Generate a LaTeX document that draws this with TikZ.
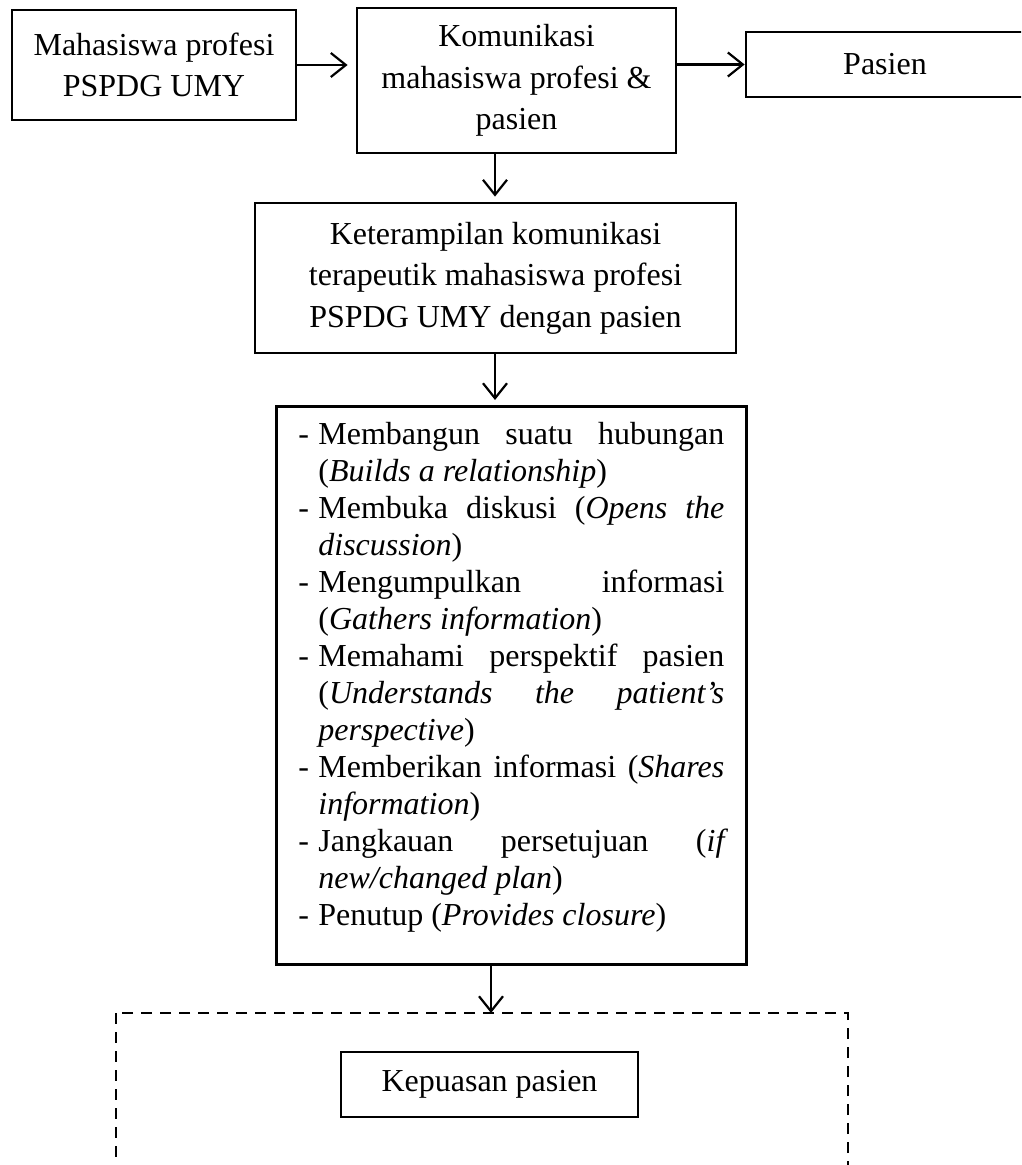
\documentclass[tikz,border=0pt]{standalone}
\usepackage{fontspec}
\setmainfont{Liberation Serif}
\usetikzlibrary{arrows.meta}
\newcommand\itemline[1]{\hbox to 470pt{\hskip 22pt\hbox to 20pt{-\hfil}\hbox to 406pt{#1}\hfil}}
\newcommand\contline[1]{\hbox to 470pt{\hskip 42pt\hbox to 406pt{#1}\hfil}}
\newcommand\listcontent{\vbox to 558pt{\fontsize{32}{37}\selectfont\baselineskip=37pt\lineskiplimit=-100pt\lineskip=0pt
\itemline{\vrule height 38pt width 0pt Membangun\hfill suatu\hfill hubungan}
\contline{({\itshape Builds a relationship})\hfil}
\itemline{Membuka\hfill diskusi\hfill ({\itshape Opens}\hfill{\itshape the}}
\contline{{\itshape discussion})\hfil}
\itemline{Mengumpulkan\hfill informasi}
\contline{({\itshape Gathers information})\hfil}
\itemline{Memahami\hfill perspektif\hfill pasien}
\contline{({\itshape Understands}\hfill{\itshape the}\hfill{\itshape patient’s}}
\contline{{\itshape perspective})\hfil}
\itemline{Memberikan\hfill informasi\hfill ({\itshape Shares}}
\contline{{\itshape information})\hfil}
\itemline{Jangkauan\hfill persetujuan\hfill ({\itshape if}}
\contline{{\itshape new/changed plan})\hfil}
\itemline{Penutup ({\itshape Provides closure})\hfil}
\vfil}}
\begin{document}
\begin{tikzpicture}[x=1pt,y=-1pt,
  framebox/.style={draw, line width=2.8pt, inner sep=0pt},
  txtbox/.style={framebox, align=center, font=\fontsize{32}{41.5}\selectfont},
  conn/.style={line width=2.2pt, -{Straight Barb[length=15pt,width=24pt,line width=2.2pt]}},
  dashedframe/.style={line width=2.6pt, dash pattern=on 11pt off 8pt}]
\clip (0,0) rectangle (1021,1165);
\node[txtbox, minimum width=284pt, minimum height=110pt] (mhs) at (154,65) {Mahasiswa profesi\\PSPDG UMY};
\node[txtbox, minimum width=319pt, minimum height=145pt] (kom) at (516.5,80.5) {Komunikasi\\mahasiswa profesi \&\\pasien};
\node[txtbox, minimum width=278pt, minimum height=65pt] (pas) at (885,64.5) {Pasien};
\node[txtbox, minimum width=481pt, minimum height=150pt] (ket) at (495.5,278) {Keterampilan komunikasi\\terapeutik mahasiswa profesi\\PSPDG UMY dengan pasien};
\node[framebox, anchor=north west] (list) at (275,405) {\listcontent};
\node[txtbox, minimum width=297pt, minimum height=65pt] (kep) at (489.5,1084.5) {Kepuasan pasien};
\draw[dashedframe] (116,1013) rectangle (848,1230);
\coordinate (ax) at (495,0);
\coordinate (dtop) at (491,1013);
\draw[conn, shorten >=8pt] (mhs.east) -- (kom.west |- mhs.east);
\draw[conn] (kom.east |- pas.west) -- (pas.west);
\draw[conn, shorten >=5pt] (kom.south -| ax) -- (ket.north -| ax);
\draw[conn, shorten >=5pt] (ket.south -| ax) -- (list.north -| ax);
\draw[conn] (list.south -| dtop) -- (dtop);
\end{tikzpicture}
\end{document}
